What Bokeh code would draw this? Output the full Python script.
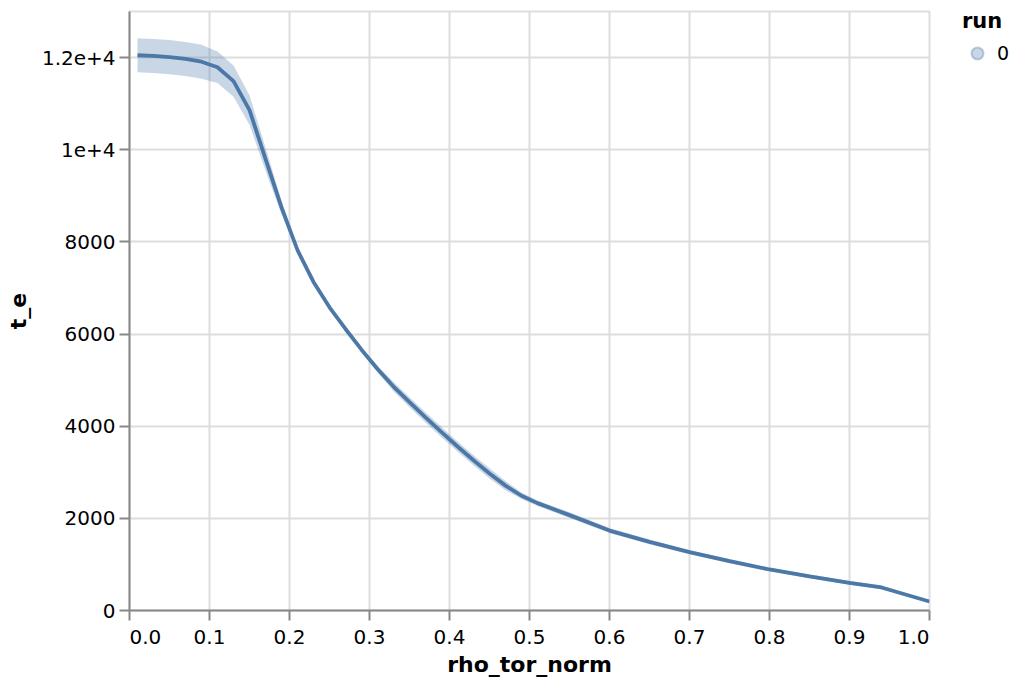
from bokeh.plotting import figure
from bokeh.models import FixedTicker, Legend, LegendItem, Range1d, ColumnDataSource
from bokeh.embed import file_html
from bokeh.resources import INLINE

# ---- data ----
rho_tor_norm = [0.01, 0.03, 0.05, 0.07, 0.09, 0.11, 0.13, 0.15, 0.17, 0.19,
                0.21, 0.23, 0.25, 0.27, 0.29, 0.31, 0.33, 0.35, 0.37, 0.39,
                0.41, 0.43, 0.45, 0.47, 0.49, 0.51, 0.55, 0.60, 0.65, 0.70,
                0.75, 0.80, 0.85, 0.90, 0.94, 1.00]
t_e = [12050, 12035, 12010, 11970, 11910, 11790, 11490, 10860, 9800, 8750,
       7820, 7130, 6580, 6110, 5660, 5240, 4860, 4520, 4190, 3870,
       3560, 3260, 2975, 2710, 2490, 2330, 2070, 1735, 1490, 1265,
       1070, 890, 740, 600, 500, 195]
t_e_lower = [11680, 11665, 11640, 11600, 11540, 11450, 11150, 10540, 9550, 8600,
             7760, 7100, 6550, 6080, 5620, 5170, 4760, 4410, 4080, 3760,
             3450, 3150, 2865, 2610, 2420, 2270, 2010, 1680, 1440, 1220,
             1025, 850, 700, 560, 460, 185]
t_e_upper = [12420, 12405, 12380, 12340, 12280, 12130, 11830, 11180, 10050, 8900,
             7880, 7160, 6610, 6140, 5700, 5310, 4960, 4630, 4300, 3980,
             3670, 3370, 3085, 2810, 2560, 2390, 2130, 1790, 1540, 1310,
             1115, 930, 780, 640, 540, 205]
run_labels = ["0"]

x_ticks = [0.0, 0.1, 0.2, 0.3, 0.4, 0.5, 0.6, 0.7, 0.8, 0.9, 1.0]
x_tick_labels = ["0.0", "0.1", "0.2", "0.3", "0.4", "0.5", "0.6", "0.7", "0.8", "0.9", "1.0"]
y_ticks = [0, 2000, 4000, 6000, 8000, 10000, 12000]
y_tick_labels = ["0", "2000", "4000", "6000", "8000", "1e+4", "1.2e+4"]

# ---- style ----
FONT = "DejaVu Sans"
BLUE = "#4c78a8"
TICK_FS = "20px"
TITLE_FS = "22px"
TICK_OUT = 10
LABEL_STANDOFF = 4
NBSP = "\u00a0"

src = ColumnDataSource(dict(rho=rho_tor_norm, te=t_e, lo=t_e_lower, hi=t_e_upper))

p = figure(frame_width=800, frame_height=599,
           x_range=Range1d(0, 1), y_range=Range1d(0, 13000),
           output_backend="svg", toolbar_location=None,
           min_border_left=129, min_border_right=91,
           min_border_top=11, min_border_bottom=74,
           background_fill_color="white", border_fill_color="white")

p.outline_line_color = "#dddddd"
p.outline_line_width = 2

band = p.varea(x="rho", y1="lo", y2="hi", source=src, fill_color=BLUE, fill_alpha=0.3)
line = p.line(x="rho", y="te", source=src, line_color=BLUE, line_width=3.8)

# legend symbol renderer: zero-size markers on the line, only the legend glyph is seen
sym = p.scatter(x="rho", y="te", source=src, marker="circle", size=0,
                fill_color=BLUE, fill_alpha=0.3,
                line_color=BLUE, line_alpha=0.35, line_width=2)

# grids
for g in (p.xgrid[0], p.ygrid[0]):
    g.grid_line_color = "#dddddd"
    g.grid_line_width = 2
p.xgrid[0].ticker = FixedTicker(ticks=x_ticks)
p.ygrid[0].ticker = FixedTicker(ticks=y_ticks)

# axes
xa = p.xaxis[0]
ya = p.yaxis[0]
xa.ticker = FixedTicker(ticks=x_ticks)
ya.ticker = FixedTicker(ticks=y_ticks)
overrides_x = dict(zip(x_ticks, x_tick_labels))
# flush first / last labels: pad with no-break spaces so they sit left / right of their tick
overrides_x[x_ticks[0]] = NBSP * 5 + x_tick_labels[0]
overrides_x[x_ticks[-1]] = x_tick_labels[-1] + NBSP * 5
xa.major_label_overrides = overrides_x
ya.major_label_overrides = dict(zip(y_ticks, y_tick_labels))
for ax in (xa, ya):
    ax.axis_line_color = "#888888"
    ax.axis_line_width = 2
    ax.major_tick_line_color = "#888888"
    ax.major_tick_line_width = 2
    ax.major_tick_out = TICK_OUT
    ax.major_tick_in = 0
    ax.minor_tick_out = 0
    ax.minor_tick_in = 0
    ax.major_label_text_font = FONT
    ax.major_label_text_font_size = TICK_FS
    ax.major_label_text_color = "black"
    ax.major_label_standoff = LABEL_STANDOFF
    ax.axis_label_text_font = FONT
    ax.axis_label_text_font_size = TITLE_FS
    ax.axis_label_text_font_style = "bold"
    ax.axis_label_text_color = "black"
xa.axis_label = "rho_tor_norm"
ya.axis_label = "t_e"
xa.axis_label_standoff = 0
ya.axis_label_standoff = 8

legend = Legend(items=[LegendItem(label=run_labels[0], renderers=[sym])],
                title="run", location=(33, 542),
                title_text_font=FONT, title_text_font_size="21px", title_text_font_style="bold",
                title_text_color="black", title_standoff=5,
                label_text_font=FONT, label_text_font_size="19px", label_text_color="black",
                glyph_width=30, glyph_height=30, label_standoff=5,
                padding=0, margin=0, border_line_color=None, background_fill_alpha=0)
p.add_layout(legend, "right")

open("out.html", "w").write(file_html(p, INLINE))
